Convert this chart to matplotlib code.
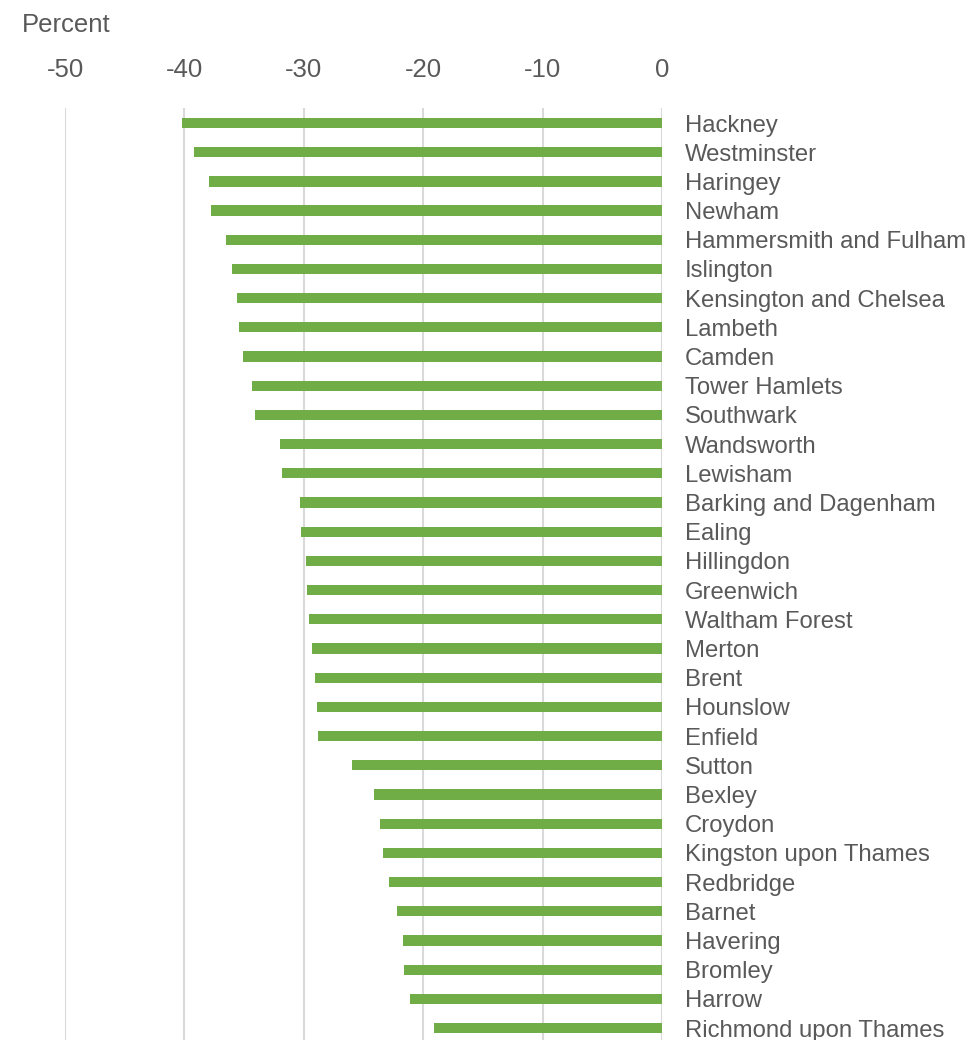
"""Fall in percent by London borough -- horizontal bars, axis on top."""

import matplotlib
matplotlib.use("Agg")
import matplotlib.pyplot as plt
import numpy as np

BOROUGHS = [
    "Hackney", "Westminster", "Haringey", "Newham", "Hammersmith and Fulham",
    "Islington", "Kensington and Chelsea", "Lambeth", "Camden", "Tower Hamlets",
    "Southwark", "Wandsworth", "Lewisham", "Barking and Dagenham", "Ealing",
    "Hillingdon", "Greenwich", "Waltham Forest", "Merton", "Brent",
    "Hounslow", "Enfield", "Sutton", "Bexley", "Croydon",
    "Kingston upon Thames", "Redbridge", "Barnet", "Havering", "Bromley",
    "Harrow", "Richmond upon Thames",
]
CHANGE = [
    -40.2, -39.2, -37.9, -37.8, -36.5,
    -36.0, -35.6, -35.4, -35.1, -34.3,
    -34.1, -32.0, -31.8, -30.3, -30.2,
    -29.8, -29.7, -29.6, -29.3, -29.1,
    -28.9, -28.8, -26.0, -24.1, -23.6,
    -23.4, -22.9, -22.2, -21.7, -21.6,
    -21.1, -19.1,
]
X_TICKS = [-50, -40, -30, -20, -10, 0]

GREEN = "#70ad47"
TEXT = "#595959"
GRID = "#d9d9d9"

plt.rcParams["font.family"] = ["Liberation Sans", "DejaVu Sans"]

W, H = 968, 1040
fig = plt.figure(figsize=(W / 100, H / 100), dpi=100)
# axes spans x=-50 at px 65 to x=0 at px 662, top at px 108
ax = fig.add_axes([65 / W, 0, (662 - 65) / W, (H - 108) / H])

y = np.arange(len(BOROUGHS))
ax.barh(y, CHANGE, height=0.35, color=GREEN, zorder=3)

ax.set_xlim(-50, 0)
ax.set_ylim(31.41, -0.514)

ax.xaxis.tick_top()
ax.set_xticks(X_TICKS)
ax.set_xticklabels([str(v) for v in X_TICKS])
ax.tick_params(axis="x", length=0, pad=19, labelsize=18.5, labelcolor=TEXT)

ax.yaxis.tick_right()
ax.set_yticks(y)
ax.set_yticklabels(BOROUGHS)
ax.tick_params(axis="y", length=0, pad=16.5, labelsize=17.2, labelcolor=TEXT)

ax.grid(axis="x", color=GRID, linewidth=1.5, zorder=0)
ax.grid(axis="y", visible=False)
for side in ax.spines:
    ax.spines[side].set_visible(False)

fig.text(22 / W, 1 - 25 / H, "Percent", fontsize=18.5, color=TEXT,
         ha="left", va="center")

fig.savefig("out.png", dpi=100)
